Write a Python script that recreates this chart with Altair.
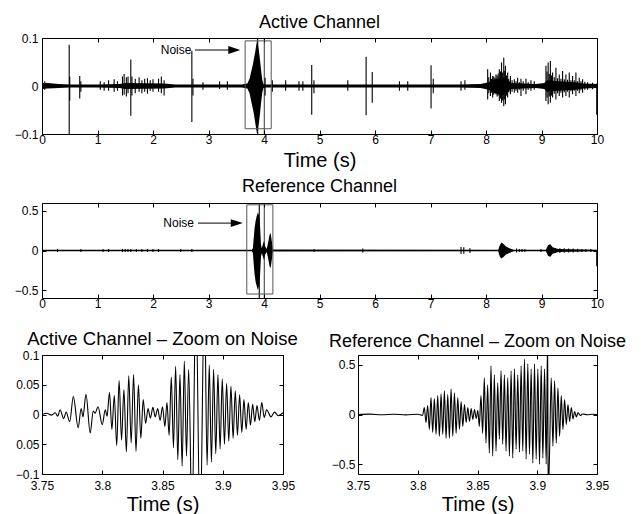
import altair as alt
import pandas as pd

FONT = "Liberation Sans"
TICK = 4

# ---------------- Active channel, 0-10 s ----------------
act_env_t = [0, 0.1, 0.3, 0.5, 1.0, 1.4, 1.5, 2.2, 2.4, 3.0, 3.6, 3.70, 3.74, 3.77, 3.80,
             3.82, 3.84, 3.86, 3.875, 3.89, 3.91, 3.93, 3.95, 3.97, 3.99, 4.02, 4.6, 5.0, 6.0, 7.0,
             7.5, 7.9, 8.05, 8.1, 8.2, 8.3, 8.4, 8.45, 8.9, 9.05, 9.1, 9.3, 9.6, 9.75, 10]
act_env_hi = [0.006, 0.006, 0.004, 0.003, 0.003, 0.004, 0.006, 0.005, 0.003, 0.003, 0.003, 0.005,
              0.015, 0.03, 0.045, 0.058, 0.07, 0.085, 0.095, 0.088, 0.072, 0.052, 0.03, 0.012, 0.004,
              0.003, 0.003, 0.003, 0.003, 0.003, 0.003, 0.004, 0.008, 0.012, 0.015, 0.018, 0.012, 0.006,
              0.004, 0.006, 0.012, 0.01, 0.008, 0.005, 0.004]
act_env_lo = [-0.006, -0.005, -0.004, -0.003, -0.003, -0.004, -0.006, -0.005, -0.003, -0.003, -0.003,
              -0.005, -0.015, -0.032, -0.048, -0.06, -0.075, -0.09, -0.1, -0.09, -0.075, -0.055, -0.032,
              -0.013, -0.004, -0.003, -0.003, -0.003, -0.003, -0.003, -0.003, -0.004, -0.008, -0.012,
              -0.016, -0.018, -0.012, -0.006, -0.004, -0.006, -0.012, -0.01, -0.008, -0.005, -0.004]

act_ev_t = [0.05, 0.49, 0.50, 0.68, 0.70, 1.05, 1.12, 1.20, 1.30, 1.36, 1.45, 1.48, 1.52, 1.55, 1.60,
            1.62, 1.68, 1.75, 1.80, 1.85, 1.90, 1.95, 2.00, 2.10, 2.15, 2.20, 2.70, 2.72, 2.90, 3.20,
            3.34, 3.886, 4.02, 4.15, 4.39, 4.63, 4.70, 4.86, 4.90, 5.51, 5.84, 5.95, 6.44, 6.59, 7.01,
            7.05, 7.55, 7.62, 8.03, 8.05, 8.08, 8.10, 8.12, 8.14, 8.16, 8.18, 8.20, 8.22, 8.24, 8.26,
            8.28, 8.30, 8.32, 8.33, 8.35, 8.37, 8.39, 8.41, 8.44, 8.47, 8.51, 8.54, 8.57, 8.60, 8.63,
            8.67, 8.72, 8.76, 8.81, 8.87, 9.08, 9.10, 9.12, 9.14, 9.16, 9.18, 9.20, 9.23, 9.26, 9.29,
            9.32, 9.35, 9.38, 9.41, 9.44, 9.47, 9.50, 9.53, 9.56, 9.59, 9.62, 9.65, 9.68, 9.71, 9.74,
            9.78, 9.83, 9.92, 9.995]
act_ev_hi = [0.010, 0.086, 0.020, 0.021, 0.010, 0.010, 0.008, 0.012, 0.014, 0.010, 0.020, 0.025, 0.018,
             0.020, 0.055, 0.020, 0.015, 0.018, 0.012, 0.015, 0.016, 0.012, 0.014, 0.015, 0.020, 0.012,
             0.073, 0.015, 0.008, 0.010, 0.010, 0.12, 0.017, 0.012, 0.012, 0.010, 0.010, 0.044, 0.012,
             0.012, 0.061, 0.029, 0.010, 0.010, 0.043, 0.015, 0.010, 0.012, 0.035, 0.018, 0.028, 0.015,
             0.021, 0.020, 0.017, 0.024, 0.022, 0.026, 0.035, 0.030, 0.049, 0.028, 0.059, 0.032, 0.042,
             0.022, 0.028, 0.015, 0.021, 0.012, 0.014, 0.010, 0.017, 0.008, 0.015, 0.010, 0.015, 0.008,
             0.012, 0.010, 0.042, 0.030, 0.049, 0.025, 0.052, 0.022, 0.028, 0.018, 0.038, 0.016, 0.024,
             0.015, 0.031, 0.014, 0.024, 0.013, 0.028, 0.012, 0.021, 0.012, 0.028, 0.010, 0.017, 0.010,
             0.014, 0.009, 0.008, 0.007, 0.005]
act_ev_lo = [-0.008, -0.12, -0.030, -0.026, -0.012, -0.008, -0.010, -0.010, -0.012, -0.010, -0.020,
             -0.018, -0.022, -0.015, -0.062, -0.020, -0.015, -0.012, -0.015, -0.012, -0.016, -0.010,
             -0.012, -0.012, -0.015, -0.020, -0.075, -0.020, -0.008, -0.006, -0.008, -0.12, -0.020,
             -0.012, -0.010, -0.010, -0.010, -0.060, -0.015, -0.010, -0.061, -0.035, -0.010, -0.010,
             -0.047, -0.015, -0.010, -0.008, -0.028, -0.015, -0.021, -0.014, -0.024, -0.018, -0.015,
             -0.017, -0.022, -0.020, -0.031, -0.026, -0.035, -0.030, -0.042, -0.028, -0.038, -0.020,
             -0.024, -0.013, -0.017, -0.012, -0.014, -0.010, -0.014, -0.008, -0.021, -0.010, -0.017,
             -0.008, -0.010, -0.008, -0.031, -0.024, -0.038, -0.022, -0.035, -0.020, -0.024, -0.016,
             -0.028, -0.015, -0.021, -0.014, -0.024, -0.013, -0.021, -0.012, -0.024, -0.011, -0.017,
             -0.010, -0.021, -0.010, -0.015, -0.009, -0.014, -0.008, -0.008, -0.007, -0.060]

# ---------------- Reference channel, 0-10 s ----------------
ref_env_t = [0, 3.78, 3.80, 3.81, 3.83, 3.85, 3.87, 3.89, 3.91, 3.93, 3.945, 3.96, 3.98, 4.0, 4.02,
             4.05, 4.08, 4.10, 4.12, 4.14, 4.16, 8.22, 8.25, 8.28, 8.32, 8.36, 8.42, 8.5, 9.08, 9.12,
             9.16, 9.2, 9.3, 10]
ref_env_hi = [0.011, 0.011, 0.03, 0.12, 0.28, 0.38, 0.44, 0.48, 0.44, 0.3, 0.08, 0.03, 0.08, 0.12,
              0.05, 0.02, 0.12, 0.2, 0.22, 0.12, 0.012, 0.011, 0.07, 0.1, 0.08, 0.05, 0.03, 0.011,
              0.011, 0.07, 0.08, 0.04, 0.02, 0.011]
ref_env_lo = [-0.011, -0.011, -0.03, -0.13, -0.3, -0.4, -0.45, -0.5, -0.45, -0.3, -0.08, -0.03, -0.08,
              -0.12, -0.05, -0.02, -0.12, -0.2, -0.22, -0.12, -0.012, -0.011, -0.08, -0.1, -0.08, -0.05,
              -0.03, -0.011, -0.011, -0.07, -0.08, -0.04, -0.02, -0.011]

ref_ev_t = [0.28, 0.70, 1.10, 1.20, 1.45, 1.50, 1.55, 1.60, 1.70, 1.80, 1.90, 2.00, 2.10, 2.50, 2.70,
            3.915, 4.90, 5.78, 7.55, 7.60, 7.71, 8.55, 8.60, 8.65, 8.70, 8.99, 9.25, 9.33, 9.41, 9.49,
            9.57, 9.65, 9.73, 9.80, 9.89, 9.995]
ref_ev_hi = [0.02, 0.018, 0.018, 0.018, 0.02, 0.02, 0.018, 0.018, 0.018, 0.018, 0.018, 0.018, 0.018,
             0.018, 0.018, 0.7, 0.015, 0.025, 0.045, 0.04, 0.03, 0.025, 0.02, 0.02, 0.02, 0.02, 0.03,
             0.03, 0.028, 0.025, 0.025, 0.022, 0.02, 0.02, 0.02, 0.0]
ref_ev_lo = [-0.02, -0.018, -0.018, -0.018, -0.02, -0.02, -0.018, -0.018, -0.018, -0.018, -0.018,
             -0.018, -0.018, -0.018, -0.018, -0.7, -0.015, -0.025, -0.045, -0.04, -0.03, -0.025, -0.02,
             -0.02, -0.02, -0.02, -0.03, -0.03, -0.028, -0.025, -0.025, -0.022, -0.02, -0.02, -0.02, -0.2]

# ---------------- Annotations ----------------
act_box = [3.66, 4.13, -0.089, 0.094]
ref_box = [3.69, 4.16, -0.55, 0.577]
act_mark = [4.005]
ref_mark = [4.005]
act_note = [2.14, 0.075, 2.757, 3.465]   # text start, y, arrow start, arrowhead centre
ref_note = [2.186, 0.346, 2.81, 3.51]

# ---------------- Zoom on noise, 3.75-3.95 s ----------------
za_t = [3.7500, 3.7540, 3.7580, 3.7610, 3.7630, 3.7650, 3.7680, 3.7700, 3.7730, 3.7760, 3.7800,
        3.7825, 3.7840, 3.7865, 3.7900, 3.7925, 3.7940, 3.7965, 3.8000, 3.8025, 3.8040, 3.8060,
        3.8080, 3.8100, 3.8120, 3.8140, 3.8160, 3.8180, 3.8200, 3.8220, 3.8240, 3.8260, 3.8280,
        3.8300, 3.8320, 3.8340, 3.8360, 3.8380, 3.8400, 3.8420, 3.8440, 3.8460, 3.8480, 3.8500,
        3.8520, 3.8537, 3.8555, 3.8573, 3.8591, 3.8609, 3.8627, 3.8645, 3.8663, 3.8681, 3.8699,
        3.8717, 3.8745, 3.8777, 3.8812, 3.8848, 3.8870, 3.8888, 3.8906, 3.8924, 3.8942, 3.8960,
        3.8978, 3.8996, 3.9014, 3.9032, 3.9050, 3.9068, 3.9086, 3.9104, 3.9122, 3.9140, 3.9158,
        3.9176, 3.9194, 3.9212, 3.9230, 3.9248, 3.9266, 3.9284, 3.9304, 3.9324, 3.9344, 3.9364,
        3.9400, 3.9430, 3.9460, 3.9500]
za_v = [0.000, 0.002, -0.001, 0.003, -0.003, 0.008, -0.007, 0.004, -0.012, 0.030, -0.022, 0.010,
        -0.004, 0.034, -0.031, 0.006, 0.002, 0.013, -0.017, 0.008, -0.003, 0.037, -0.025, 0.032,
        -0.052, 0.057, -0.043, 0.042, -0.063, 0.065, -0.048, 0.067, -0.062, 0.050, -0.040, 0.025,
        -0.015, 0.010, -0.006, 0.012, -0.004, 0.010, -0.010, 0.013, -0.020, 0.020, -0.035, 0.063,
        -0.056, 0.081, -0.076, 0.067, -0.087, 0.090, -0.070, 0.076, -0.180, 0.200, -0.200, 0.200,
        -0.085, 0.083, -0.080, 0.076, -0.066, 0.067, -0.058, 0.060, -0.050, 0.052, -0.045, 0.048,
        -0.040, 0.040, -0.035, 0.033, -0.030, 0.025, -0.025, 0.020, -0.018, 0.017, -0.012, 0.015,
        -0.010, 0.020, -0.005, 0.008, -0.004, 0.004, -0.002, 0.003]

zr_t = [3.7500, 3.7600, 3.7700, 3.7800, 3.7900, 3.8000, 3.8040, 3.8055, 3.8069, 3.8083, 3.8097,
        3.8111, 3.8125, 3.8139, 3.8153, 3.8167, 3.8181, 3.8195, 3.8209, 3.8223, 3.8237, 3.8251,
        3.8265, 3.8279, 3.8293, 3.8307, 3.8321, 3.8335, 3.8349, 3.8363, 3.8377, 3.8391, 3.8405,
        3.8419, 3.8433, 3.8447, 3.8461, 3.8475, 3.8489, 3.8503, 3.8515, 3.8529, 3.8543, 3.8557,
        3.8571, 3.8585, 3.8599, 3.8613, 3.8627, 3.8641, 3.8655, 3.8669, 3.8683, 3.8697, 3.8711,
        3.8725, 3.8739, 3.8753, 3.8767, 3.8781, 3.8795, 3.8809, 3.8823, 3.8837, 3.8851, 3.8865,
        3.8879, 3.8893, 3.8907, 3.8921, 3.8935, 3.8949, 3.8963, 3.8977, 3.8991, 3.9005, 3.9019,
        3.9033, 3.9047, 3.9061, 3.9075, 3.9087, 3.9091, 3.9103, 3.9117, 3.9131, 3.9145, 3.9159,
        3.9173, 3.9187, 3.9201, 3.9215, 3.9229, 3.9243, 3.9257, 3.9271, 3.9285, 3.9299, 3.9313,
        3.9327, 3.9341, 3.9360, 3.9380, 3.9420, 3.9460, 3.9500]
zr_v = [0.000, 0.004, -0.003, 0.003, -0.004, 0.003, -0.010, 0.070, -0.080, 0.090, -0.150, 0.170,
        -0.180, 0.160, -0.200, 0.190, -0.220, 0.210, -0.200, 0.240, -0.240, 0.200, -0.240, 0.260,
        -0.220, 0.220, -0.190, 0.170, -0.150, 0.130, -0.120, 0.100, -0.080, 0.070, -0.070, 0.060,
        -0.050, 0.050, -0.040, 0.040, -0.120, 0.190, -0.190, 0.370, -0.290, 0.300, -0.390, 0.490,
        -0.420, 0.400, -0.370, 0.320, -0.250, 0.440, -0.300, 0.400, -0.370, 0.370, -0.420, 0.440,
        -0.440, 0.460, -0.350, 0.400, -0.380, 0.490, -0.370, 0.560, -0.450, 0.510, -0.400, 0.460,
        -0.490, 0.510, -0.450, 0.460, -0.500, 0.490, -0.440, 0.460, -0.500, 0.800, -0.800, -0.390,
        0.370, -0.320, 0.340, -0.290, 0.270, -0.220, 0.190, -0.150, 0.150, -0.100, 0.100, -0.070,
        0.070, -0.045, 0.030, -0.025, 0.020, -0.010, 0.005, -0.003, 0.003, 0.000]

full_x_ticks = [0, 1, 2, 3, 4, 5, 6, 7, 8, 9, 10]
zoom_x_ticks = [3.75, 3.8, 3.85, 3.9, 3.95]
act_y_ticks = [-0.1, 0, 0.1]
ref_y_ticks = [-0.5, 0, 0.5]
za_y_ticks = [-0.1, -0.05, 0, 0.05, 0.1]


def panel(marks_fn, xdom, ydom, xticks, yticks, w, h, title, xtitle, xfmt,
          xlabpad=0, ylabpad=4, title_offset=0, title_pad=6, title_size=18, ylabexpr=None):
    xs = alt.Scale(domain=xdom, nice=False, zero=False)
    ys = alt.Scale(domain=ydom, nice=False, zero=False)
    frame = pd.DataFrame({"x": xdom, "y": ydom})
    xa = dict(orient="bottom", values=xticks, tickSize=0, domain=False, grid=False,
              labelPadding=xlabpad, labelFont=FONT, labelFontSize=12, labelColor="black",
              labelFlush=False, labelOverlap=False, format=xfmt)
    if xtitle:
        xa.update(title=xtitle, titleFont=FONT, titleFontSize=20, titleFontWeight="normal",
                  titleColor="black", titlePadding=title_pad)
    else:
        xa.update(title=None)
    ya = dict(orient="left", values=yticks, tickSize=0, domain=False, grid=False,
              labelPadding=ylabpad, labelFont=FONT, labelFontSize=12, labelColor="black",
              labelFlush=False, labelOverlap=False, minExtent=0, format="~g", title=None)
    if ylabexpr:
        ya.update(labelExpr=ylabexpr)
    base = alt.Chart(frame).mark_point(opacity=0)
    la = base.encode(x=alt.X("x:Q", scale=xs, axis=alt.Axis(**xa)),
                     y=alt.Y("y:Q", scale=ys, axis=alt.Axis(**ya)))
    tick = dict(tickSize=TICK, offset=-TICK, labels=False, domain=False, grid=False,
                title=None, tickColor="black", tickWidth=1, minExtent=0)
    lb = base.encode(x=alt.X("x:Q", scale=xs, axis=alt.Axis(orient="bottom", values=xticks, **tick)),
                     y=alt.Y("y:Q", scale=ys, axis=alt.Axis(orient="left", values=yticks, **tick)))
    lc = base.encode(x=alt.X("x:Q", scale=xs, axis=alt.Axis(orient="top", values=xticks, **tick)),
                     y=alt.Y("y:Q", scale=ys, axis=alt.Axis(orient="right", values=yticks, **tick)))
    layers = marks_fn(xs, ys) + [la, lb, lc]
    return alt.layer(*layers).resolve_axis(x="independent", y="independent").properties(
        width=w, height=h,
        title=alt.TitleParams(text=title, font=FONT, fontSize=title_size, fontWeight="normal",
                              color="black", offset=title_offset))


def overview_marks(env_t, env_hi, env_lo, ev_t, ev_hi, ev_lo, box, mark_t, note, ylo, yhi):
    def fn(xs, ys):
        env = pd.DataFrame({"t": env_t, "hi": env_hi, "lo": env_lo})
        ev = pd.DataFrame({"t": ev_t, "hi": ev_hi, "lo": ev_lo})
        bx = pd.DataFrame({"t0": [box[0]], "t1": [box[1]], "v0": [box[2]], "v1": [box[3]]})
        mk = pd.DataFrame({"t": mark_t, "lo": [ylo] * len(mark_t), "hi": [yhi] * len(mark_t)})
        nt = pd.DataFrame({"t": [note[0]], "v": [note[1]], "label": ["Noise"]})
        ar = pd.DataFrame({"t0": [note[2]], "t1": [note[3]], "v": [note[1]]})
        X = lambda f: alt.X(f, scale=xs, axis=None)
        Y = lambda f: alt.Y(f, scale=ys, axis=None)
        return [
            alt.Chart(env).mark_area(color="black", clip=True)
               .encode(x=X("t:Q"), y=Y("lo:Q"), y2="hi:Q"),
            alt.Chart(ev).mark_rule(color="black", strokeWidth=1.1, clip=True)
               .encode(x=X("t:Q"), y=Y("lo:Q"), y2="hi:Q"),
            alt.Chart(mk).mark_rule(color="black", strokeWidth=0.8, clip=True)
               .encode(x=X("t:Q"), y=Y("lo:Q"), y2="hi:Q"),
            alt.Chart(bx).mark_rect(color="white", fillOpacity=0, stroke="#555555", strokeWidth=1)
               .encode(x=X("t0:Q"), x2="t1:Q", y=Y("v0:Q"), y2="v1:Q"),
            alt.Chart(nt).mark_text(align="left", baseline="middle", font=FONT, fontSize=12,
                                    color="black")
               .encode(x=X("t:Q"), y=Y("v:Q"), text="label:N"),
            alt.Chart(ar).mark_rule(color="black", strokeWidth=1)
               .encode(x=X("t0:Q"), x2="t1:Q", y=Y("v:Q")),
            alt.Chart(ar).mark_point(shape="M1,0L-1,-0.65L-1,0.65Z", filled=True, size=144,
                                     color="black", opacity=1)
               .encode(x=X("t1:Q"), y=Y("v:Q")),
        ]
    return fn


def zoom_marks(t, v):
    def fn(xs, ys):
        d = pd.DataFrame({"t": t, "v": v})
        return [alt.Chart(d).mark_line(color="black", strokeWidth=1.1, clip=True,
                                       interpolate="monotone")
                .encode(x=alt.X("t:Q", scale=xs, axis=None), y=alt.Y("v:Q", scale=ys, axis=None))]
    return fn


top = panel(overview_marks(act_env_t, act_env_hi, act_env_lo, act_ev_t, act_ev_hi, act_ev_lo,
                           act_box, act_mark, act_note, -0.1, 0.1),
            [0, 10], [-0.1, 0.1], full_x_ticks, act_y_ticks, 555, 96,
            "Active Channel", "Time (s)", "d", title_offset=0, title_pad=5)
mid = panel(overview_marks(ref_env_t, ref_env_hi, ref_env_lo, ref_ev_t, ref_ev_hi, ref_ev_lo,
                           ref_box, ref_mark, ref_note, -0.6, 0.6),
            [0, 10], [-0.6, 0.6], full_x_ticks, ref_y_ticks, 555, 95,
            "Reference Channel", None, "d", title_offset=4)
z1 = panel(zoom_marks(za_t, za_v), [3.75, 3.95], [-0.1, 0.1], zoom_x_ticks, za_y_ticks, 241, 119,
           "Active Channel \u2013 Zoom on Noise", "Time (s)", ".2~f", xlabpad=6, ylabpad=3,
           title_offset=1, title_pad=3, title_size=18.5,
           ylabexpr="datum.value == -0.05 ? '0.05' : datum.label")
z2 = panel(zoom_marks(zr_t, zr_v), [3.75, 3.95], [-0.6, 0.6], zoom_x_ticks, ref_y_ticks, 239, 119,
           "Reference Channel \u2013 Zoom on Noise", "Time (s)", ".2~f", xlabpad=6, ylabpad=3,
           title_offset=1, title_pad=3, title_size=18)

bottom = alt.hconcat(z1, z2, spacing=75, bounds="flush")
chart = alt.vconcat(top, alt.vconcat(mid, bottom, spacing=57, bounds="flush"),
                    spacing=69, bounds="flush").properties(
    padding={"left": 5, "top": 5, "right": 2, "bottom": 0}
).configure_view(stroke="black", strokeWidth=1)

chart.save("out.html", embed_options={"renderer": "svg", "actions": False})
